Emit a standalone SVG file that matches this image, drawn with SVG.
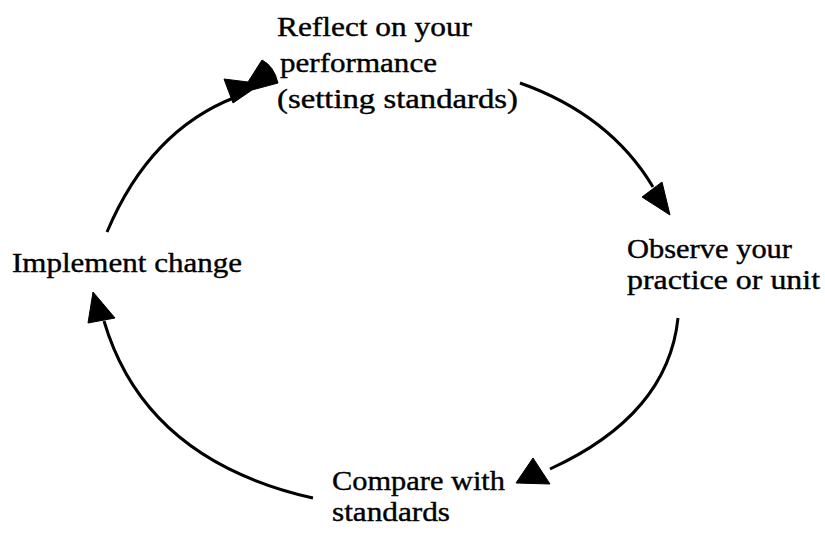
<svg xmlns="http://www.w3.org/2000/svg" width="825" height="535" viewBox="0 0 825 535">
<style>
text{font-family:"Liberation Serif","Times New Roman",serif;font-size:28px;fill:#000;stroke:#000;stroke-width:0.4}
.arc{fill:none;stroke:#000;stroke-width:3}
.head{fill:#000;stroke:#000;stroke-width:1}
</style>
<rect width="825" height="535" fill="#fff"/>
<g id="connectors">
<path class="arc" d="M107,232 Q150,130 236,97"/>
<path class="head" d="M224,79 L248,82 L262,60 Q274,66 278,83 L252,90 L233,103 Z"/>
<path class="arc" d="M520,83 Q610,115 653,187"/>
<path class="head" d="M670,215 L642,197 L662,182 Z"/>
<path class="arc" d="M678,318 Q668,415 550,469"/>
<path class="head" d="M516,483 L533,458 L550,484 Z"/>
<path class="arc" d="M313,498 Q145,460 104,321"/>
<path class="head" d="M93,292 L88,323 L115,318 Z"/>
</g>
<g id="reflect">
<text x="277" y="36" textLength="195" lengthAdjust="spacingAndGlyphs">Reflect on your</text>
<text x="280" y="72" textLength="157" lengthAdjust="spacingAndGlyphs">performance</text>
<text x="277" y="108" textLength="241" lengthAdjust="spacingAndGlyphs">(setting standards)</text>
</g>
<g id="observe">
<text x="627" y="258" textLength="165" lengthAdjust="spacingAndGlyphs">Observe your</text>
<text x="627" y="289" textLength="193" lengthAdjust="spacingAndGlyphs">practice or unit</text>
</g>
<g id="compare">
<text x="332" y="490" textLength="173" lengthAdjust="spacingAndGlyphs">Compare with</text>
<text x="332" y="521" textLength="118" lengthAdjust="spacingAndGlyphs">standards</text>
</g>
<g id="implement">
<text x="12" y="272" textLength="230" lengthAdjust="spacingAndGlyphs">Implement change</text>
</g>
</svg>
